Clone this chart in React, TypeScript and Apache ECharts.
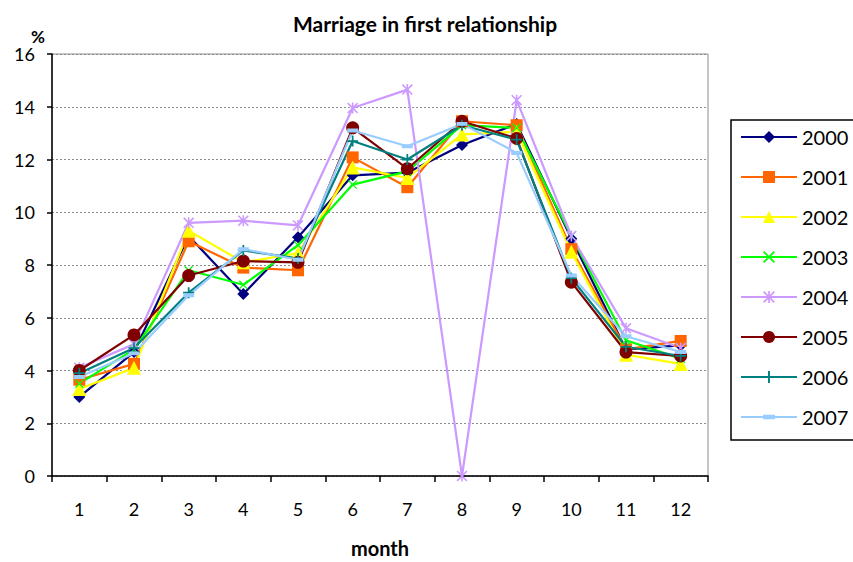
import React, { useEffect, useRef } from "react";
import * as echarts from "echarts";

const months = ["1", "2", "3", "4", "5", "6", "7", "8", "9", "10", "11", "12"];
const yearNames = ["2000", "2001", "2002", "2003", "2004", "2005", "2006", "2007"];

const y2000 = [3.0, 4.7, 9.1, 6.9, 9.05, 11.4, 11.5, 12.55, 13.35, 9.0, 4.8, 4.95];
const y2001 = [3.65, 4.25, 8.9, 7.9, 7.8, 12.08, 10.95, 13.45, 13.3, 8.6, 4.8, 5.12];
const y2002 = [3.3, 4.1, 9.3, 8.1, 8.45, 11.7, 11.3, 12.95, 13.05, 8.5, 4.6, 4.25];
const y2003 = [3.5, 4.8, 7.8, 7.25, 8.75, 11.05, 11.55, 13.3, 13.2, 9.1, 5.15, 4.45];
const y2004 = [4.1, 5.0, 9.6, 9.68, 9.5, 13.95, 14.65, 0, 14.25, 9.1, 5.6, 4.85];
const y2005 = [4.0, 5.35, 7.6, 8.15, 8.1, 13.2, 11.65, 13.45, 12.8, 7.35, 4.7, 4.55];
const y2006 = [3.9, 4.85, 6.95, 8.55, 8.25, 12.7, 12.0, 13.3, 12.75, 7.5, 4.9, 4.55];
const y2007 = [3.75, 4.65, 6.85, 8.6, 8.2, 13.1, 12.5, 13.35, 12.25, 7.6, 5.3, 4.7];

const yearValues = [y2000, y2001, y2002, y2003, y2004, y2005, y2006, y2007];
const yearColors = ["#000080", "#FF6600", "#FFFF00", "#00FF00", "#CC99FF", "#800000", "#008080", "#99CCFF"];

// Marker shapes drawn as filled outlines on a 10x10 box
const plusPath = "path://M4.2,0H5.8V10H4.2Z M0,4.2H10V5.8H0Z";
const crossPath = "path://M0,1 L1,0 L10,9 L9,10Z M9,0 L10,1 L1,10 L0,9Z";
const starPath = "path://M0,1 L1,0 L10,9 L9,10Z M9,0 L10,1 L1,10 L0,9Z M4.3,0H5.7V10H4.3Z";
// flat bar; two tiny corner specks keep the 10x10 bounding box so it stays flat when scaled
const dashPath = "path://M0,0L0.01,0L0,0.01Z M9.99,10L10,10L10,9.99Z M0,3.2H10V6.8H0Z";

const yearSymbols: any[] = ["diamond", "rect", "triangle", crossPath, starPath, "circle", plusPath, dashPath];
const yearSymbolSizes: any[] = [12, 12, 14, 9, 11, 13, 11, 11];

const FONT = "Lato, 'Liberation Sans', sans-serif";

export default function App() {
  const ref = useRef<HTMLDivElement>(null);

  useEffect(() => {
    if (!ref.current) return;
    const chart = echarts.init(ref.current, null, { renderer: "svg" });
    chart.setOption({
      animation: false,
      backgroundColor: "#ffffff",
      textStyle: { fontFamily: FONT },
      title: {
        text: "Marriage in first relationship",
        left: 420,
        top: 8,
        textAlign: "center",
        textStyle: { fontFamily: FONT, fontWeight: "bold", fontSize: 21, color: "#000" },
      },
      grid: {
        left: 52,
        right: 145,
        top: 54,
        bottom: 86,
        show: true,
        borderColor: "#8c8c8c",
        borderWidth: 1,
        outerBoundsMode: "none",
        containLabel: false,
      },
      legend: {
        orient: "vertical",
        left: 740,
        top: 127,
        padding: 0,
        itemWidth: 56,
        itemHeight: 15,
        itemGap: 20,
        textStyle: { fontFamily: FONT, fontSize: 20, color: "#000", lineHeight: 20 },
        data: yearNames,
      },
      graphic: [
        {
          type: "rect",
          shape: { x: 731, y: 120, width: 140, height: 320 },
          style: { fill: "none", stroke: "#000", lineWidth: 1.5 },
          silent: true,
        },
      ],
      xAxis: {
        type: "category",
        data: months,
        boundaryGap: true,
        name: "month",
        nameLocation: "middle",
        nameGap: 62,
        nameTextStyle: { fontFamily: FONT, fontWeight: "bold", fontSize: 20, color: "#000" },
        axisLine: { lineStyle: { color: "#000", width: 1.5 } },
        axisTick: { show: true, alignWithLabel: false, length: 6, lineStyle: { color: "#000", width: 1.5 } },
        axisLabel: { color: "#000", fontSize: 18, fontFamily: FONT, margin: 24 },
        splitLine: { show: false },
      },
      yAxis: {
        type: "value",
        min: 0,
        max: 16,
        interval: 2,
        name: "%",
        nameLocation: "end",
        nameGap: 5,
        nameTextStyle: { fontFamily: FONT, fontWeight: "bold", fontSize: 17, color: "#000", padding: [0, 28, 0, 0] },
        axisLine: { show: true, lineStyle: { color: "#000", width: 1.5 } },
        axisTick: { show: true, length: 5, lineStyle: { color: "#000", width: 1.5 } },
        axisLabel: { color: "#000", fontSize: 18, fontFamily: FONT, margin: 17 },
        splitLine: { show: true, lineStyle: { color: "#8c8c8c", type: [2, 2], width: 1 } },
      },
      series: yearNames.map((name, i) => ({
        name,
        type: "line",
        data: yearValues[i],
        symbol: yearSymbols[i],
        symbolSize: yearSymbolSizes[i],
        showAllSymbol: true,
        lineStyle: { color: yearColors[i], width: 2.2 },
        itemStyle: { color: yearColors[i], borderWidth: 0 },
        emphasis: { disabled: true },
      })),
    });
    return () => chart.dispose();
  }, []);

  return (
    <div
      ref={ref}
      style={{ position: "fixed", left: 0, top: 0, width: 853, height: 562 }}
    />
  );
}
